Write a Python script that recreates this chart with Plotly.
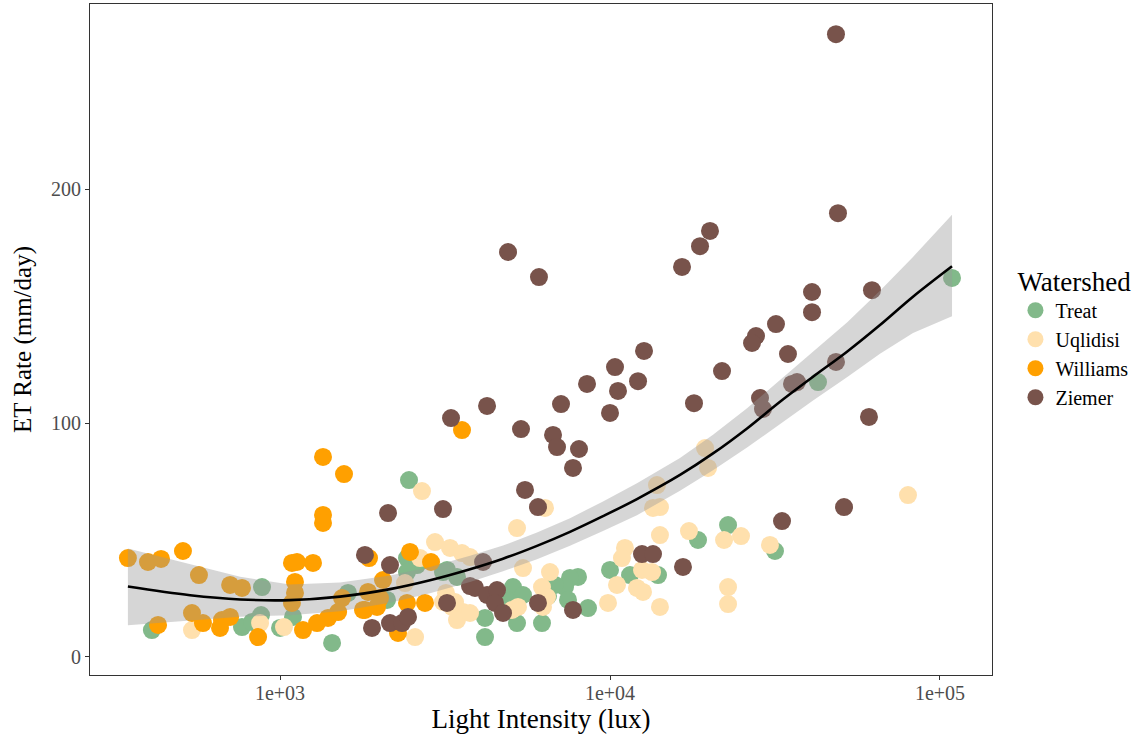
import plotly.graph_objects as go

# ---------------- data ----------------
treat_lux = [108750, 42690, 22790, 18480, 31620, 10000, 11500, 13980, 8000, 7564,
             7305, 7460, 8577, 6221, 5226, 5082, 5450, 4874, 4181, 4181,
             2460, 3207, 2426, 2601, 2426, 3118, 1438, 1095, 882, 409,
             767, 823, 876, 1000, 6813, 6488, 1607, 2110, 3438]
treat_et = [162.0, 117.5, 56.4, 50.0, 45.3, 37.2, 35.0, 35.0, 34.2, 33.8,
            29.9, 24.4, 20.9, 14.5, 14.5, 29.9, 26.5, 24.4, 16.7, 8.5,
            75.6, 37.2, 42.3, 39.3, 36.3, 36.3, 6.0, 17.1, 29.9, 11.5,
            12.8, 15.0, 17.9, 12.4, 30.8, 26.1, 27.4, 24.4, 34.2]

uqli_lux = [79980, 19410, 19820, 17350, 22160, 24950, 30530, 22790, 22790, 14170,
            13500, 13880, 14170, 14170, 11100, 10870, 12500, 13410, 10500, 12070,
            12590, 9861, 6353, 5226, 6579, 6221, 6266, 6444, 5263, 2693,
            2949, 3275, 3561, 3765, 2392, 3118, 3321, 3585, 3438, 3765,
            2566, 5047, 3184, 3391, 5450, 1028, 541, 870, 2657]
uqli_et = [69.2, 89.3, 80.8, 53.8, 50.0, 51.7, 47.9, 29.9, 22.6, 64.1,
           63.7, 73.5, 52.1, 21.4, 46.6, 42.3, 37.2, 36.3, 30.8, 29.5,
           27.8, 23.1, 63.7, 55.1, 36.3, 29.9, 21.4, 25.6, 21.4, 70.9,
           49.1, 46.6, 44.4, 42.7, 31.6, 23.5, 21.4, 19.2, 15.8, 18.8,
           8.5, 20.1, 27.4, 23.5, 38.0, 12.8, 11.5, 14.5, 42.3]

will_lux = [346, 398, 436, 508, 568, 706, 767, 541, 584, 667,
            706, 658, 427, 858, 1087, 1126, 1259, 1110, 1110, 1087,
            1350, 1350, 1350, 1563, 3561, 1861, 2477, 2868, 2052, 1848,
            1542, 2009, 1809, 1968, 2426, 2750, 1174, 1295, 1398, 1500,
            1784, 2278]
will_et = [42.3, 40.6, 41.9, 45.3, 35.0, 30.8, 29.5, 18.8, 14.5, 15.8,
           17.1, 12.4, 13.7, 8.5, 40.2, 40.6, 40.2, 32.1, 27.4, 23.1,
           60.7, 57.3, 85.5, 78.2, 97.0, 42.3, 44.9, 40.6, 32.9, 27.8,
           25.2, 25.2, 20.1, 21.4, 23.1, 23.1, 11.5, 14.5, 16.7, 19.2,
           20.1, 10.3]

ziem_lux = [48400, 49080, 62220, 40940, 40940, 20090, 18740, 16530, 4909, 6092,
            21850, 10356, 12680, 12160, 10573, 10000, 17970, 8519, 4240, 3298,
            5374, 6720, 6910, 7105, 31840, 27700, 26940, 34620, 48400, 28480,
            29080, 36870, 35600, 60920, 51190, 33210, 16640, 8055, 7724, 5526,
            6050, 2125, 3118, 2154, 1809, 4124, 12500, 13500, 7724, 3765,
            3899, 4240, 4546, 4483, 4741, 3207, 1900, 2154, 2343, 2443, 6050]
ziem_et = [266.2, 189.7, 156.8, 156.0, 147.4, 182.1, 175.6, 166.7, 173.1, 162.4,
           122.2, 123.9, 130.8, 117.9, 113.7, 104.3, 108.5, 116.7, 107.3, 102.1,
           97.4, 94.9, 89.7, 108.1, 142.3, 137.2, 134.2, 129.5, 126.1, 110.7,
           106.0, 117.5, 116.7, 102.6, 64.1, 58.1, 38.5, 88.9, 80.8, 71.4,
           64.1, 61.5, 63.2, 39.3, 43.6, 40.6, 44.0, 44.0, 20.1, 30.3,
           29.5, 26.5, 28.6, 23.1, 18.8, 23.1, 12.4, 14.5, 14.5, 17.1, 23.1]

# smoothed fit with confidence band
fit_lux = [346, 534, 757, 1072, 1520, 2154, 2848, 3765, 4740, 6008, 7564,
           9524, 12070, 16298, 20520, 26020, 32750, 41240, 52260, 65790, 82830, 108750]
fit_et = [30.1, 26.4, 24.6, 24.3, 25.8, 29.0, 32.8, 37.5, 42.0, 47.5, 53.5,
          60.2, 67.5, 77.8, 87.0, 97.7, 109.1, 119.8, 130.5, 141.9, 154.0, 167.0]
fit_lo = [13.6, 15.6, 17.2, 17.8, 19.5, 23.2, 27.2, 32.0, 36.6, 41.8, 47.5,
          53.8, 60.6, 71.0, 79.8, 89.5, 99.6, 109.6, 119.6, 129.6, 138.5, 145.6]
fit_hi = [46.4, 39.8, 34.3, 31.0, 31.8, 34.8, 38.5, 43.3, 47.6, 53.2, 59.3,
          66.5, 74.3, 85.0, 95.0, 106.3, 118.5, 130.6, 143.0, 156.5, 171.0, 189.0]

groups = ["Treat", "Uqlidisi", "Williams", "Ziemer"]
colors = ["#82B98A", "#FFE0AD", "#FFA000", "#78534B"]
xs = [treat_lux, uqli_lux, will_lux, ziem_lux]
ys = [treat_et, uqli_et, will_et, ziem_et]

tick_vals = [1000, 10000, 100000]
tick_text = ["1e+03", "1e+04", "1e+05"]

FONT = "Liberation Serif"

fig = go.Figure()
for g, c, x, y in zip(groups, colors, xs, ys):
    fig.add_trace(go.Scatter(x=x, y=y, mode="markers", name=g,
                             marker=dict(size=18, color=c, line=dict(width=0))))

fig.add_trace(go.Scatter(x=fit_lux, y=fit_lo, mode="lines", line=dict(width=0),
                         showlegend=False, hoverinfo="skip"))
fig.add_trace(go.Scatter(x=fit_lux, y=fit_hi, mode="lines", line=dict(width=0),
                         fill="tonexty", fillcolor="rgba(153,153,153,0.4)",
                         showlegend=False, hoverinfo="skip"))
fig.add_trace(go.Scatter(x=fit_lux, y=fit_et, mode="lines", line=dict(color="black", width=2.6),
                         line_shape="spline", showlegend=False))

fig.update_layout(
    width=1148, height=734,
    paper_bgcolor="white", plot_bgcolor="white",
    margin=dict(l=90, r=156, t=4, b=59, autoexpand=False),
    font=dict(family=FONT, color="black"),
    legend=dict(
        title=dict(text="Watershed", font=dict(size=27, family=FONT, color="black")),
        font=dict(size=20, family=FONT, color="black"),
        x=1.026, y=0.625, xanchor="left", yanchor="top",
        itemsizing="trace", traceorder="normal", tracegroupgap=0,
    ),
)
fig.update_xaxes(
    type="log", range=[2.4242, 5.1576],
    tickvals=tick_vals, ticktext=tick_text,
    showgrid=False, zeroline=False,
    showline=True, mirror=True, linecolor="#333333", linewidth=1,
    ticks="outside", ticklen=4, tickcolor="#333333",
    ticklabelstandoff=-4,
    tickfont=dict(size=20, family=FONT, color="#4d4d4d"),
    title=dict(text="Light Intensity (lux)", font=dict(size=27, family=FONT, color="black"), standoff=6),
)
fig.update_yaxes(
    range=[-7.7, 279.1], tickvals=[0, 100, 200],
    showgrid=False, zeroline=False,
    showline=True, mirror=True, linecolor="#333333", linewidth=1,
    ticks="outside", ticklen=4, tickcolor="#333333",
    tickfont=dict(size=20, family=FONT, color="#4d4d4d"),
    title=dict(text="ET Rate (mm/day)", font=dict(size=25, family=FONT, color="black"), standoff=12),
)

fig.write_html("out.html", config={"displayModeBar": False},
               post_script="document.body.style.margin='0px';")
